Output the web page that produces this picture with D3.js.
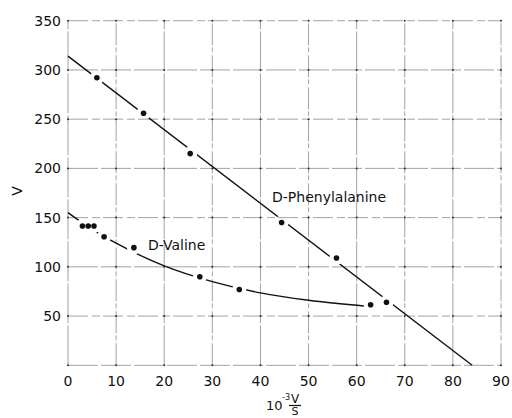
<!DOCTYPE html>
<html><head><meta charset="utf-8">
<script src="https://cdn.jsdelivr.net/npm/d3@7"></script>
<style>body{margin:0;background:#fff}svg{display:block}text{font-family:"DejaVu Sans",sans-serif;fill:#111}</style>
</head><body><svg id="c" width="512" height="418"></svg>
<script>
const xTicks = [0,10,20,30,40,50,60,70,80,90];
const yTicks = [50,100,150,200,250,300,350];
const pheX = [6.0, 15.7, 25.4, 44.4, 55.8, 66.2];
const pheV = [292, 256, 215, 145, 109, 64];
const pheLineX = [0, 84];
const pheLineV = [314, 0];
const valX = [3.0, 4.2, 5.4, 7.5, 13.7, 27.4, 35.6, 62.9];
const valV = [141.5, 141.5, 141.5, 130.5, 119.5, 90, 77, 61.5];
const valCurveX = [0, 5, 10, 20, 30, 40, 50, 62];
const valCurveV = [155, 138, 124, 101, 85, 73.5, 66, 60];

const svg = d3.select("#c");
const x = d3.scaleLinear().domain([0,90]).range([68,501]);
const y = d3.scaleLinear().domain([0,350]).range([365.3,20.7]);

// grid
const g = svg.append("g").attr("stroke","#8a8a8a").attr("stroke-width",0.8).attr("fill","none");
g.selectAll("line.v").data(xTicks).join("line")
  .attr("x1",d=>x(d)).attr("x2",d=>x(d)).attr("y1",y(0)).attr("y2",y(350))
  .attr("stroke-dasharray",(d,i)=> i%2 ? "22,3,5,2" : "40,2");
g.selectAll("line.h").data([0].concat(yTicks)).join("line")
  .attr("y1",d=>y(d)).attr("y2",d=>y(d)).attr("x1",x(0)).attr("x2",x(90))
  .attr("stroke-dasharray",(d,i)=> i%2 ? "20,4,8,3" : "30,3");
// intersection tick dots
const inter = [];
xTicks.forEach(a=>[0].concat(yTicks).forEach(b=>inter.push([a,b])));
svg.append("g").selectAll("circle").data(inter).join("circle")
  .attr("cx",d=>x(d[0])).attr("cy",d=>y(d[1])).attr("r",1).attr("fill","#333");

// axis tick labels
svg.append("g").selectAll("text").data(xTicks).join("text")
  .attr("x",d=>x(d)).attr("y",386).attr("text-anchor","middle")
  .attr("font-size",14).text(d=>d);
svg.append("g").selectAll("text").data(yTicks).join("text")
  .attr("x",61).attr("y",d=>y(d)+5).attr("text-anchor","end")
  .attr("font-size",14).text(d=>d);

// axis titles
svg.append("text").attr("transform","translate(22,191) rotate(-90)")
  .attr("text-anchor","middle").attr("font-size",14).text("V");
const xl = svg.append("g");
xl.append("text").attr("x",266).attr("y",410).attr("font-size",13).text("10");
xl.append("text").attr("x",282).attr("y",400).attr("font-size",8).text("-3");
xl.append("text").attr("x",295).attr("y",403).attr("text-anchor","middle").attr("font-size",12).text("V");
xl.append("line").attr("x1",289).attr("x2",301).attr("y1",405.5).attr("y2",405.5).attr("stroke","#111").attr("stroke-width",1.2);
xl.append("text").attr("x",295).attr("y",415).attr("text-anchor","middle").attr("font-size",11).text("S");

// mask for line gaps around points
const defs = svg.append("defs");
const mask = defs.append("mask").attr("id","gap").attr("maskUnits","userSpaceOnUse")
  .attr("x",0).attr("y",0).attr("width",512).attr("height",418);
mask.append("rect").attr("width",512).attr("height",418).attr("fill","#fff");
const allPts = pheX.map((d,i)=>[d,pheV[i]]).concat(valX.map((d,i)=>[d,valV[i]]));
mask.selectAll("circle").data(allPts).join("circle")
  .attr("cx",d=>x(d[0])).attr("cy",d=>y(d[1])).attr("r",7).attr("fill","#000");

const lines = svg.append("g").attr("mask","url(#gap)").attr("fill","none").attr("stroke","#111").attr("stroke-width",1.4);
lines.append("path").attr("d", d3.line().x(d=>x(d[0])).y(d=>y(d[1]))(pheLineX.map((d,i)=>[d,pheLineV[i]])));
lines.append("path").attr("d", d3.line().curve(d3.curveMonotoneX).x(d=>x(d[0])).y(d=>y(d[1]))(valCurveX.map((d,i)=>[d,valCurveV[i]])));

// points
svg.append("g").selectAll("circle").data(allPts).join("circle")
  .attr("cx",d=>x(d[0])).attr("cy",d=>y(d[1])).attr("r",2.8).attr("fill","#111");

// labels
svg.append("text").attr("x",272).attr("y",202).attr("font-size",14).text("D-Phenylalanine");
svg.append("text").attr("x",148).attr("y",250).attr("font-size",14).text("D-Valine");
</script></body></html>
